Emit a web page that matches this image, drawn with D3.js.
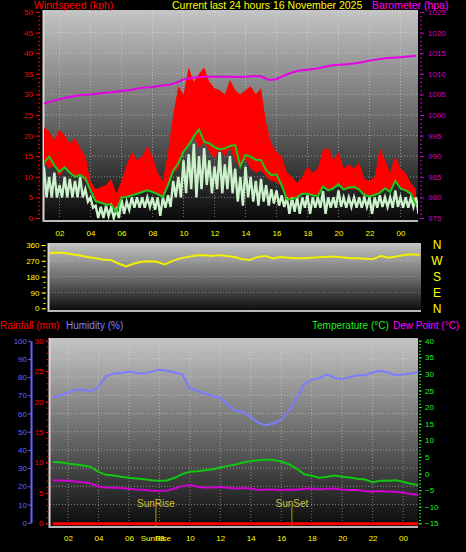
<!DOCTYPE html>
<html>
    <head>
        <meta charset="utf-8" />
        <title>Current last 24 hours</title>
        <script src="https://d3js.org/d3.v7.min.js"></script>
        <style>
            body {
                margin: 0px;
                background: #000;
            }
            svg {
                display: block;
                font-family: "Liberation Sans", Arial, sans-serif;
            }
        </style>
    </head>
    <body>
        <svg id="chart"></svg>
        <script>

        // wind, 20 minute samples from 01:00 to 01:00 (kph)
        var windGust = [22,21,19,21.5,20,18,19.5,17,15,9,7,7.5,8,9.5,6,9,13,16,14,15,17.5,15,11,9,16,25,32,30,36.5,33,35,36.5,33,31.5,31,30,33.5,31,30,31,32,30,31.5,23,18,16,15,11,10,8.5,10,12.5,11,12,16.5,17,14,16,12,13,12,13.5,9.5,9,10,17,14,11,15,12,11,8.5,7];
        var windHigh = [12.4,10,11,8,10,9.5,9,10,7,5,3,2.7,3,2.7,2,4.5,4,5,5,5,5,5,5,5,5.5,9,10,14,15.5,18,15,17,14,12.5,16,13,15,12,10,12.4,10,9,9.5,8,7,6.7,5.5,5,5,5,5,5.5,5,5,6.5,5,5,6.7,5,5,5,5,5,5,5,5.5,5,5,6.7,5,5,5,5];
        var windLow = [5,5,5,5,5,5,5,5,4,2.5,0,0,0.5,0,0,1,2,2.5,2.5,2.5,2.7,2,0.5,2.5,2.7,5,5,6,7,5,7,8,6,7,6,7,6,4,3,5,4,3,4,3,3.5,3,2.7,1,1.5,1,2.5,1,2.5,2.5,1,2.5,2.5,2.7,2.5,2.7,2.5,2.5,2.7,1,2.5,2.7,2.7,2.5,2.7,2.5,2.5,2.7,1];
        var windAvg = [13.5,14.9,12.8,11.2,12.3,11,10,10.4,9.6,6.7,4.1,3.7,3.3,3.3,1.5,5,5.1,5.5,5.9,6.3,6.7,6.3,5.8,5.1,8,11.5,13.3,16.1,17.7,19.8,21.5,18.5,18.1,17.2,16.7,16.9,17.5,17.7,12.5,15.3,14.9,14.1,14.1,11.6,10.4,10.6,8,4.5,4.6,5,5.9,5.9,5.5,5.3,7.6,6.7,7.2,8.2,6.9,7.4,7.6,6.9,5.5,5.3,5.6,6.1,7.2,6.3,9,7.2,6.7,5.9,3.1];

        // 30 minute samples from 01:00 to 01:00
        var pressure = [1002.8,1003.3,1003.8,1004.3,1004.6,1004.9,1005.0,1005.2,1005.4,1005.6,1005.8,1006.0,1006.4,1006.7,1006.8,1007.1,1007.3,1007.8,1008.6,1009.0,1009.2,1009.3,1009.3,1009.3,1009.3,1009.2,1009.3,1009.4,1009.4,1008.5,1008.7,1009.6,1010.3,1010.8,1011.0,1011.2,1011.6,1012.0,1012.2,1012.3,1012.5,1012.8,1013.2,1013.5,1013.8,1013.9,1014.0,1014.2,1014.4];
        var windDir = [313,318,314,308,300,292,285,278,275,255,238,255,265,267,265,250,270,284,292,300,303,298,303,298,292,280,275,292,298,284,292,288,284,284,288,290,293,293,290,285,284,282,280,298,288,295,303,308,303];
        var humidity = [68.6,70,71.5,73,73,72,74.5,80.5,82,82.3,83,82.2,82,83,84,83.5,82.5,81.5,73.7,72.5,71,69.5,68.5,65,61.5,61,58,55,53.5,54.5,56.5,61.5,68,76,78.5,79.5,81.5,79.5,79,80,81,81,82.5,83.5,82.5,81,81.5,82,82.8];
        var temperature = [3.5,3.4,3.0,2.7,2.4,2.0,0.5,-0.4,-0.6,-1.0,-1.3,-1.5,-1.7,-2.0,-2.2,-2.1,-1.3,-0.2,0.5,0.7,1.0,1.3,1.8,2.3,2.7,3.3,3.8,4.0,4.2,4.1,3.6,2.8,1.5,-0.2,-0.7,-1.3,-1.0,-0.6,-1.0,-1.2,-1.6,-1.8,-2.6,-2.2,-2.2,-2.0,-2.5,-3.1,-3.5];
        var dewPoint = [-2.0,-2.1,-2.2,-2.4,-2.6,-3.0,-4.0,-4.2,-4.3,-4.4,-4.6,-4.8,-4.9,-5.2,-5.2,-5.1,-4.5,-3.8,-3.5,-4.0,-4.2,-4.2,-4.1,-4.3,-4.5,-4.4,-4.5,-5.0,-4.8,-4.8,-5.0,-4.8,-4.9,-4.6,-4.5,-4.8,-4.6,-4.5,-4.8,-5.0,-5.0,-5.3,-5.5,-5.3,-5.4,-5.5,-5.7,-6.2,-6.5];

        // hourly rain (mm)
        var rainfall = [0,0,0,0,0,0,0,0,0,0,0,0,0,0,0,0,0,0,0,0,0,0,0,0,0];

        // sun events (hour of day)
        var sunLabels = ["SunRise", "SunSet"];
        var sunHours = [7.77, 16.7];

        // tick labels
        var hourTicks = [2,4,6,8,10,12,14,16,18,20,22,24];
        var hourLabels = ["02","04","06","08","10","12","14","16","18","20","22","00"];
        var windTicks = [0,5,10,15,20,25,30,35,40,45,50];
        var baroTicks = [975,980,985,990,995,1000,1005,1010,1015,1020,1025];
        var dirTicks = [0,90,180,270,360];
        var compassLabels = ["N","E","S","W","N"];
        var humTicks = [0,10,20,30,40,50,60,70,80,90,100];
        var rainTicks = [0,5,10,15,20,25,30];
        var tempTicks = [-15,-10,-5,0,5,10,15,20,25,30,35,40];

        var windHours = d3.range(windGust.length).map(function(i) { return 1 + i / 3; });
        var halfHours = d3.range(pressure.length).map(function(i) { return 1 + i / 2; });
        var rainHours = d3.range(rainfall.length).map(function(i) { return 1 + i; });

        var width = 466;
        var height = 552;

        var svg = d3.select("#chart")
            .attr("width", width)
            .attr("height", height);

        svg.append("rect")
            .attr("width", width)
            .attr("height", height)
            .attr("fill", "#000");

        var grad = svg.append("defs").append("linearGradient")
            .attr("id", "bg")
            .attr("x1", 0).attr("y1", 0)
            .attr("x2", 0).attr("y2", 1);
        grad.append("stop").attr("offset", 0).attr("stop-color", "#c4c4c4");
        grad.append("stop").attr("offset", 0.5).attr("stop-color", "#6c6c6c");
        grad.append("stop").attr("offset", 1).attr("stop-color", "#080808");

        function panel(x0, y0, x1, y1) {
            svg.append("rect")
                .attr("x", x0).attr("y", y0)
                .attr("width", x1 - x0).attr("height", y1 - y0)
                .attr("fill", "url(#bg)");
            svg.append("line")
                .attr("x1", x0 + 0.5).attr("x2", x0 + 0.5)
                .attr("y1", y0).attr("y2", y1)
                .attr("stroke", "#d8d8d8").attr("stroke-width", 2);
            svg.append("line")
                .attr("x1", x0).attr("x2", x1)
                .attr("y1", y1 - 1).attr("y2", y1 - 1)
                .attr("stroke", "#b8b8b8").attr("stroke-width", 2);
        }

        function styleAxis(g, color, size) {
            g.attr("font-family", null).attr("font-size", size);
            g.select(".domain").remove();
            g.selectAll(".tick line").attr("stroke", color);
            g.selectAll(".tick text").attr("fill", color);
        }

        function hLabel(d) {
            return hourLabels[hourTicks.indexOf(d)];
        }

        // each sample drawn as a spike: top value at its time, bottom value half a step later
        function spikes(top, bottom, x, y, half) {
            var pts = [];
            top.forEach(function(v, i) {
                pts.push([x(windHours[i]), y(v)]);
                pts.push([x(windHours[i] + half), y(bottom[i])]);
            });
            return d3.line()(pts);
        }

        // ---------- top panel: wind + barometer ----------
        var xTop = d3.scaleLinear().domain([1, 25]).range([44, 416]);
        var yWind = d3.scaleLinear().domain([0, 50]).range([218, 12]);
        var yBaro = d3.scaleLinear().domain([975, 1025]).range([218, 12]);

        panel(43, 10, 418, 222);

        var gridTop = svg.append("g")
            .attr("stroke", "#e8e8e8")
            .attr("stroke-opacity", 0.45)
            .attr("stroke-dasharray", "1,2");
        gridTop.selectAll(".v").data(hourTicks).enter().append("line")
            .attr("x1", function(d) { return xTop(d); })
            .attr("x2", function(d) { return xTop(d); })
            .attr("y1", 12).attr("y2", 219);
        gridTop.selectAll(".h").data(windTicks.slice(1)).enter().append("line")
            .attr("x1", 44).attr("x2", 418)
            .attr("y1", function(d) { return yWind(d); })
            .attr("y2", function(d) { return yWind(d); });

        svg.append("clipPath").attr("id", "clipTop")
            .append("rect").attr("x", 44).attr("y", 10).attr("width", 374).attr("height", 210);

        var wind = svg.append("g").attr("clip-path", "url(#clipTop)");

        var gustArea = d3.area()
            .x(function(d, i) { return xTop(windHours[i]); })
            .y0(function(d, i) { return yWind(Math.min(windAvg[i], windHigh[i] + 2)); })
            .y1(function(d) { return yWind(d); });
        wind.append("path")
            .datum(windGust)
            .attr("d", gustArea)
            .attr("fill", "#ff0000");

        wind.append("path")
            .attr("d", spikes(windHigh, windLow, xTop, yWind, 1 / 6))
            .attr("fill", "none")
            .attr("stroke", "#ccf2cc")
            .attr("stroke-width", 2.4)
            .attr("stroke-linejoin", "miter");

        wind.append("path")
            .datum(windAvg)
            .attr("d", d3.line()
                .x(function(d, i) { return xTop(windHours[i]); })
                .y(function(d) { return yWind(d); }))
            .attr("fill", "none")
            .attr("stroke", "#1ec81e")
            .attr("stroke-width", 2);

        svg.append("path")
            .datum(pressure)
            .attr("d", d3.line()
                .x(function(d, i) { return xTop(halfHours[i]); })
                .y(function(d) { return yBaro(d); }))
            .attr("fill", "none")
            .attr("stroke", "#e600e6")
            .attr("stroke-width", 2);

        svg.append("g")
            .attr("transform", "translate(40,0)")
            .call(d3.axisLeft(yWind).tickValues(windTicks).tickSize(4).tickPadding(3))
            .call(styleAxis, "#ff0000", 8);
        svg.append("g")
            .attr("transform", "translate(40,0)")
            .call(d3.axisLeft(yWind).tickValues(d3.range(0, 51, 1)).tickSize(2).tickFormat(""))
            .call(styleAxis, "#ff0000", 8);

        svg.append("g")
            .attr("transform", "translate(420,0)")
            .call(d3.axisRight(yBaro).tickValues(baroTicks).tickSize(4).tickPadding(4).tickFormat(d3.format("d")))
            .call(styleAxis, "#cc00cc", 8);
        svg.append("g")
            .attr("transform", "translate(420,0)")
            .call(d3.axisRight(yBaro).tickValues(d3.range(975, 1026, 1)).tickSize(2).tickFormat(""))
            .call(styleAxis, "#cc00cc", 8);

        svg.append("g")
            .attr("transform", "translate(0,221)")
            .call(d3.axisBottom(xTop).tickValues(hourTicks).tickSize(0).tickPadding(9).tickFormat(hLabel))
            .call(styleAxis, "#ffff00", 8);

        svg.append("text").attr("x", 34).attr("y", 8.5)
            .attr("font-size", 10.5).attr("fill", "#ff0000")
            .text("Windspeed (kph)");
        svg.append("text").attr("x", 172).attr("y", 8.5)
            .attr("font-size", 10.5).attr("fill", "#ffff00")
            .text("Current last 24 hours 16 November 2025");
        svg.append("text").attr("x", 372).attr("y", 8.5)
            .attr("font-size", 10.5).attr("fill", "#ff00ff")
            .text("Barometer (hpa)");

        // ---------- middle panel: wind direction ----------
        var xMid = d3.scaleLinear().domain([1, 25]).range([49, 419.6]);
        var yDir = d3.scaleLinear().domain([0, 360]).range([308.3, 245]);

        panel(48, 243, 421, 312);

        svg.append("g")
            .attr("stroke", "#e8e8e8")
            .attr("stroke-opacity", 0.35)
            .attr("stroke-dasharray", "1,2")
            .selectAll("line").data([90, 180, 270]).enter().append("line")
            .attr("x1", 49).attr("x2", 421)
            .attr("y1", function(d) { return yDir(d); })
            .attr("y2", function(d) { return yDir(d); });

        svg.append("path")
            .datum(windDir)
            .attr("d", d3.line()
                .x(function(d, i) { return xMid(halfHours[i]); })
                .y(function(d) { return yDir(d); }))
            .attr("fill", "none")
            .attr("stroke", "#f0f000")
            .attr("stroke-width", 2);

        svg.append("g")
            .attr("transform", "translate(45.5,0)")
            .call(d3.axisLeft(yDir).tickValues(dirTicks).tickSize(4).tickPadding(2))
            .call(styleAxis, "#ffff00", 8);
        svg.append("g")
            .attr("transform", "translate(45.5,0)")
            .call(d3.axisLeft(yDir).tickValues(d3.range(0, 361, 30)).tickSize(2).tickFormat(""))
            .call(styleAxis, "#ffff00", 8);

        svg.append("g").selectAll("text")
            .data(dirTicks).enter().append("text")
            .attr("x", 437)
            .attr("y", function(d) { return yDir(d); })
            .attr("dy", "0.36em")
            .attr("text-anchor", "middle")
            .attr("font-size", 12)
            .attr("fill", "#ffff00")
            .text(function(d, i) { return compassLabels[i]; });

        // ---------- bottom panel: rain, humidity, temperature ----------
        var xBot = d3.scaleLinear().domain([1, 25]).range([52.8, 418.3]);
        var yHum = d3.scaleLinear().domain([0, 100]).range([522.7, 340.7]);
        var yRain = d3.scaleLinear().domain([0, 30]).range([523.3, 340.7]);
        var yTemp = d3.scaleLinear().domain([-15, 40]).range([523.3, 340.7]);

        panel(49, 338, 418, 528);

        var gridBot = svg.append("g")
            .attr("stroke", "#e8e8e8")
            .attr("stroke-opacity", 0.45)
            .attr("stroke-dasharray", "1,2");
        gridBot.selectAll(".v").data(hourTicks).enter().append("line")
            .attr("x1", function(d) { return xBot(d); })
            .attr("x2", function(d) { return xBot(d); })
            .attr("y1", 340).attr("y2", 526);
        gridBot.selectAll(".h").data(humTicks.slice(1, 10)).enter().append("line")
            .attr("x1", 50).attr("x2", 418)
            .attr("y1", function(d) { return yHum(d); })
            .attr("y2", function(d) { return yHum(d); });

        svg.append("path")
            .datum(humidity)
            .attr("d", d3.line()
                .x(function(d, i) { return xBot(halfHours[i]); })
                .y(function(d) { return yHum(d); }))
            .attr("fill", "none")
            .attr("stroke", "#7c7cff")
            .attr("stroke-width", 2);

        svg.append("path")
            .datum(temperature)
            .attr("d", d3.line()
                .x(function(d, i) { return xBot(halfHours[i]); })
                .y(function(d) { return yTemp(d); }))
            .attr("fill", "none")
            .attr("stroke", "#10c810")
            .attr("stroke-width", 2);

        svg.append("path")
            .datum(dewPoint)
            .attr("d", d3.line()
                .x(function(d, i) { return xBot(halfHours[i]); })
                .y(function(d) { return yTemp(d); }))
            .attr("fill", "none")
            .attr("stroke", "#d000d0")
            .attr("stroke-width", 2);

        // sunrise / sunset markers
        var sun = svg.append("g").selectAll("g")
            .data(sunHours).enter().append("g");
        sun.append("line")
            .attr("x1", function(d) { return xBot(d); })
            .attr("x2", function(d) { return xBot(d); })
            .attr("y1", 507).attr("y2", 526)
            .attr("stroke", "#b09a00")
            .attr("stroke-width", 1);
        sun.append("text")
            .attr("x", function(d) { return xBot(d); })
            .attr("y", 506.5)
            .attr("text-anchor", "middle")
            .attr("font-size", 10)
            .attr("fill", "#d2c040")
            .text(function(d, i) { return sunLabels[i]; });

        svg.append("path")
            .datum(rainfall)
            .attr("d", d3.line()
                .x(function(d, i) { return xBot(rainHours[i]); })
                .y(function(d) { return yRain(d); }))
            .attr("transform", "translate(0,0.5)")
            .attr("fill", "none")
            .attr("stroke", "#ff0000")
            .attr("stroke-width", 3);

        var humAxis = svg.append("g")
            .attr("transform", "translate(31,0)")
            .call(d3.axisLeft(yHum).tickValues(humTicks).tickSize(3).tickSizeOuter(0).tickPadding(1));
        humAxis.attr("font-family", null).attr("font-size", 8);
        humAxis.select(".domain").attr("stroke", "#6464ff").attr("stroke-width", 2);
        humAxis.selectAll(".tick line").attr("stroke", "#6464ff");
        humAxis.selectAll(".tick text").attr("fill", "#6464ff");

        svg.append("g")
            .attr("transform", "translate(48.5,0)")
            .call(d3.axisLeft(yRain).tickValues(rainTicks).tickSize(3).tickPadding(2))
            .call(styleAxis, "#ff0000", 8);
        svg.append("g")
            .attr("transform", "translate(48.5,0)")
            .call(d3.axisLeft(yRain).tickValues(d3.range(0, 31, 1)).tickSize(2).tickFormat(""))
            .call(styleAxis, "#ff0000", 8);

        svg.append("g")
            .attr("transform", "translate(419,0)")
            .call(d3.axisRight(yTemp).tickValues(tempTicks).tickSize(3).tickPadding(3))
            .call(styleAxis, "#22ee22", 8);
        svg.append("g")
            .attr("transform", "translate(419,0)")
            .call(d3.axisRight(yTemp).tickValues(d3.range(-15, 41, 1)).tickSize(2).tickFormat(""))
            .call(styleAxis, "#22ee22", 8);

        svg.append("g")
            .attr("transform", "translate(0,527)")
            .call(d3.axisBottom(xBot).tickValues(hourTicks).tickSize(0).tickPadding(8).tickFormat(hLabel))
            .call(styleAxis, "#ffff00", 8);
        svg.append("text")
            .attr("x", xBot(sunHours[0]))
            .attr("y", 541)
            .attr("text-anchor", "middle")
            .attr("font-size", 8)
            .attr("fill", "#ffff00")
            .text(sunLabels[0]);

        svg.append("text").attr("x", 0).attr("y", 329)
            .attr("font-size", 10).attr("fill", "#ff0000")
            .text("Rainfall (mm)");
        svg.append("text").attr("x", 66).attr("y", 329)
            .attr("font-size", 10).attr("fill", "#8080ff")
            .text("Humidity (%)");
        svg.append("text").attr("x", 312).attr("y", 329)
            .attr("font-size", 10).attr("fill", "#22ee22")
            .text("Temperature (°C)");
        svg.append("text").attr("x", 393).attr("y", 329)
            .attr("font-size", 10).attr("fill", "#ff00ff")
            .text("Dew Point (°C)");

        </script>
    </body>
</html>
